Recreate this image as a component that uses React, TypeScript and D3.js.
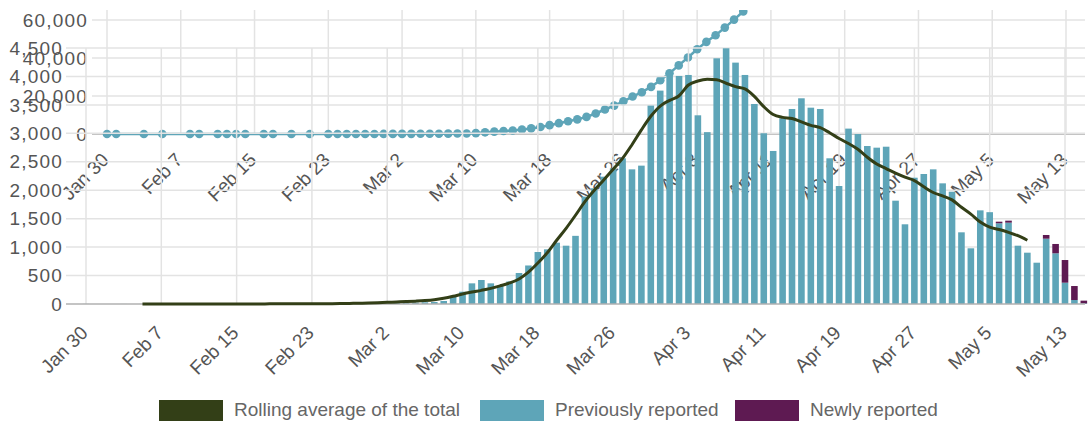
import React from "react";
import * as d3 from "d3";

// ---------- DATA ----------
const tickDays = [0, 8, 16, 24, 32, 40, 48, 56, 64, 72, 80, 88, 96, 104];
const tickLabels = ["Jan 30", "Feb 7", "Feb 15", "Feb 23", "Mar 2", "Mar 10", "Mar 18", "Mar 26", "Apr 3", "Apr 11", "Apr 19", "Apr 27", "May 5", "May 13"];

const topTicks = [0, 20000, 40000, 60000];
const bottomTicks = [0, 500, 1000, 1500, 2000, 2500, 3000, 3500, 4000, 4500];

// cumulative (top chart) – day index from Jan 30, value
const cumDays = [0, 1, 4, 6, 9, 10, 12, 13, 14, 15, 17, 18, 20, 22,
  24, 25, 26, 27, 28, 29, 30, 31, 32, 33, 34, 35, 36, 37, 38, 39,
  40, 41, 42, 43, 44, 45, 46, 47, 48, 49, 50, 51, 52, 53, 54, 55, 56, 57, 58, 59,
  60, 61, 62, 63, 64, 65, 66, 67, 68, 69, 70];
const cumValues = [2, 2, 3, 3, 8, 8, 9, 9, 9, 9, 9, 9, 9, 13,
  13, 13, 15, 19, 23, 35, 40, 51, 60, 80, 100, 120, 150, 180, 230, 300,
  450, 880, 1230, 1580, 1850, 2400, 2950, 3650, 4650, 5700, 6700, 7700, 9000, 10800, 12900, 14950, 17200, 19700, 22000, 24800,
  28300, 32000, 36100, 40300, 44600, 48500, 52000, 56000, 60200, 64500, 68500];

// daily (bottom chart), index 0 = Jan 30 ... 106 = May 15
const previouslyReported = [
  2, 0, 0, 0, 1, 0, 1, 0, 0, 2, 0, 1, 0, 0, 0, 0, 0, 1, 0, 0,
  0, 0, 0, 1, 0, 0, 2, 4, 4, 9, 8, 12, 10, 18, 22, 25, 30, 35, 53, 129,
  216, 363, 422, 363, 316, 396, 545, 677, 914, 961, 1078, 1025, 1198, 1887, 2034, 2238, 2385, 2561, 2367, 2432,
  3487, 3751, 4079, 4009, 4026, 3317, 3021, 4319, 4495, 4243, 4026, 3516, 3001, 2690, 3264, 3428, 3616, 3451, 3428, 2561,
  2074, 3083, 2988, 2777, 2748, 2765, 1816, 1401, 2220, 2285, 2367, 2121, 1974, 1260, 979, 1646, 1614, 1419, 1430, 1025,
  902, 726, 1148, 891, 375, 70, 10];
const newlyReported = [
  0, 0, 0, 0, 0, 0, 0, 0, 0, 0, 0, 0, 0, 0, 0, 0, 0, 0, 0, 0,
  0, 0, 0, 0, 0, 0, 0, 0, 0, 0, 0, 0, 0, 0, 0, 0, 0, 0, 0, 0,
  0, 0, 0, 0, 0, 0, 0, 0, 0, 0, 0, 0, 0, 0, 0, 0, 0, 0, 0, 0,
  0, 0, 0, 0, 0, 0, 0, 0, 0, 0, 0, 0, 0, 0, 0, 0, 0, 0, 0, 0,
  0, 0, 0, 0, 0, 0, 0, 0, 0, 0, 0, 0, 0, 0, 0, 0, 0, 28, 35, 0,
  0, 0, 65, 164, 398, 246, 49];

const rollingStart = 6; // Feb 5
const rollingAverage = [
  2, 2, 2, 2, 2, 2, 2, 2, 2, 2, 2, 2, 2, 2, 3, 3, 3, 3, 4, 5,
  6, 8, 10, 14, 18, 24, 30, 36, 42, 50, 60, 75, 100, 135, 176, 210, 240, 275, 320, 370,
  440, 560, 720, 900, 1120, 1330, 1560, 1800, 2000, 2180, 2370, 2560, 2800, 3060, 3300, 3480, 3580, 3660, 3850, 3920,
  3950, 3940, 3880, 3820, 3780, 3650, 3470, 3330, 3280, 3260, 3200, 3140, 3100, 3010, 2910, 2820, 2720, 2580, 2460, 2380,
  2300, 2230, 2170, 2060, 1960, 1900, 1830, 1700, 1580, 1440, 1350, 1310, 1260, 1200, 1120];

const legendItems = [
  { label: "Rolling average of the total", color: "#333f17" },
  { label: "Previously reported", color: "#5ea5b8" },
  { label: "Newly reported", color: "#5e1a52" },
];

// ---------- STYLE ----------
const TEAL = "#5ea5b8";
const PURPLE = "#5e1a52";
const OLIVE = "#333f17";
const GRID = "#e3e3e3";
const AXIS = "#b0b0b0";
const TEXT = "#555";
const FONT = "'Liberation Sans', Arial, sans-serif";

export default function App() {
  // top chart scales
  const xTop = d3.scaleLinear().domain([0, 104]).range([107, 1066]);
  const yTop = d3.scaleLinear().domain([0, 60000]).range([134, 20]);
  const topLeft = 92, topRight = 1085, topTop = 10;

  // bottom chart scales
  const xBot = d3.scaleLinear().domain([0, 104]).range([86, 1065]);
  const yBot = d3.scaleLinear().domain([0, 4500]).range([304, 48]);
  const botLeft = 66, botRight = 1085;
  const barW = (xBot(1) - xBot(0)) * 0.7;

  const cumPts: [number, number][] = cumDays.map((d, i) => [xTop(d), yTop(cumValues[i])]);
  const cumLine = d3.line()(cumPts) || "";

  const rollPts: [number, number][] = rollingAverage.map((v, i) => [xBot(i + rollingStart), yBot(v)]);
  const rollLine = d3.line().curve(d3.curveMonotoneX)(rollPts) || "";

  const fmt = d3.format(",");

  return (
    <svg width={1091} height={430} style={{ position: "absolute", left: 0, top: 0 }} fontFamily={FONT}>
      <defs>
        <clipPath id="topClip">
          <rect x={topLeft} y={topTop} width={topRight - topLeft} height={134 - topTop + 10} />
        </clipPath>
      </defs>
      <rect width={1091} height={430} fill="#fff" />

      {/* ===== TOP CHART (cumulative) ===== */}
      <g>
        {topTicks.map((t) => (
          t === 0 ? null :
          <line key={"tg" + t} x1={topLeft} x2={topRight} y1={yTop(t)} y2={yTop(t)} stroke={GRID} strokeWidth={1.5} />
        ))}
        {tickDays.map((d) => (
          <line key={"tv" + d} x1={xTop(d)} x2={xTop(d)} y1={topTop} y2={134} stroke={GRID} strokeWidth={1.5} />
        ))}
        <line x1={topLeft} x2={topRight} y1={yTop(0)} y2={yTop(0)} stroke={AXIS} strokeWidth={1.5} />
        {topTicks.map((t) => (
          <text key={"tl" + t} x={88} y={yTop(t)} dy="0.35em" textAnchor="end" fontSize={19} fill={TEXT} letterSpacing={1.2}>
            {fmt(t)}
          </text>
        ))}
        {tickDays.map((d, i) => (
          <text key={"tx" + d} transform={`translate(${xTop(d) + 3},${yTop(0) + 27}) rotate(-45)`} textAnchor="end" fontSize={19} fill={TEXT}>
            {tickLabels[i]}
          </text>
        ))}
        <g clipPath="url(#topClip)">
          <path d={cumLine} fill="none" stroke={TEAL} strokeWidth={2.5} />
          {cumPts.map((p, i) => (
            <circle key={"cp" + i} cx={p[0]} cy={p[1]} r={4.3} fill={TEAL} />
          ))}
        </g>
      </g>

      {/* ===== BOTTOM CHART (daily) ===== */}
      <g>
        {bottomTicks.map((t) => (
          t === 0 ? null :
          <line key={"bg" + t} x1={botLeft} x2={botRight} y1={yBot(t)} y2={yBot(t)} stroke={GRID} strokeWidth={1.5} />
        ))}
        {tickDays.map((d) => (
          <line key={"bv" + d} x1={xBot(d)} x2={xBot(d)} y1={yBot(4500)} y2={yBot(0)} stroke={GRID} strokeWidth={1.5} />
        ))}
        {bottomTicks.map((t) => (
          <text key={"bl" + t} x={63} y={yBot(t)} dy="0.35em" textAnchor="end" fontSize={19} fill={TEXT} letterSpacing={1.2}>
            {fmt(t)}
          </text>
        ))}
        {tickDays.map((d, i) => (
          <text key={"bx" + d} transform={`translate(${xBot(d) + 3},${yBot(0) + 30}) rotate(-45)`} textAnchor="end" fontSize={19} fill={TEXT}>
            {tickLabels[i]}
          </text>
        ))}
        {previouslyReported.map((v, i) => (
          v > 0 ? <rect key={"pb" + i} x={xBot(i) - barW / 2} y={yBot(v)} width={barW} height={yBot(0) - yBot(v)} fill={TEAL} /> : null
        ))}
        {newlyReported.map((v, i) => (
          v > 0 ? <rect key={"nb" + i} x={xBot(i) - barW / 2} y={yBot(previouslyReported[i] + v)} width={barW} height={yBot(previouslyReported[i]) - yBot(previouslyReported[i] + v)} fill={PURPLE} /> : null
        ))}
        <line x1={botLeft} x2={botRight} y1={yBot(0)} y2={yBot(0)} stroke={AXIS} strokeWidth={1.5} />
        <path d={rollLine} fill="none" stroke={OLIVE} strokeWidth={3} />
      </g>

      {/* ===== LEGEND ===== */}
      {legendItems.map((it, i) => {
        const xs = [159, 480, 735][i];
        return (
          <g key={"lg" + i}>
            <rect x={xs} y={400} width={64} height={21} fill={it.color} />
            <text x={xs + 75} y={416} fontSize={19} fill="#666">{it.label}</text>
          </g>
        );
      })}
    </svg>
  );
}
